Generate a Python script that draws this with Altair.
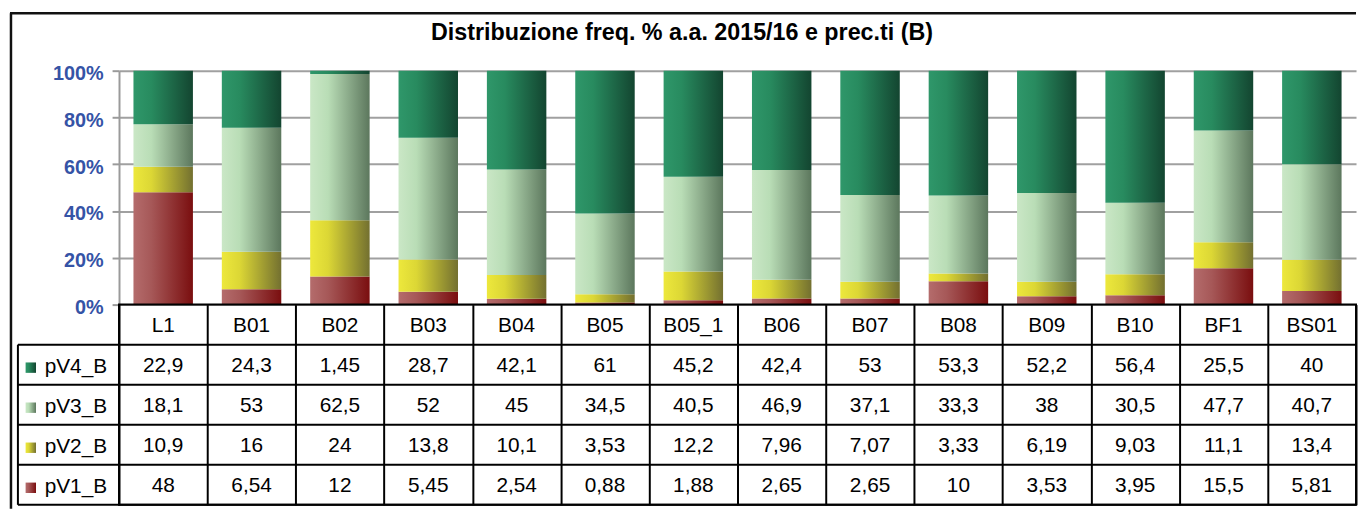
import altair as alt
import pandas as pd

# ---------------- data ----------------
categories = ["L1", "B01", "B02", "B03", "B04", "B05", "B05_1", "B06",
              "B07", "B08", "B09", "B10", "BF1", "BS01"]
series_names = ["pV4_B", "pV3_B", "pV2_B", "pV1_B"]          # table order (top -> bottom)
pV4_B = [22.9, 24.3, 1.45, 28.7, 42.1, 61, 45.2, 42.4, 53, 53.3, 52.2, 56.4, 25.5, 40]
pV3_B = [18.1, 53, 62.5, 52, 45, 34.5, 40.5, 46.9, 37.1, 33.3, 38, 30.5, 47.7, 40.7]
pV2_B = [10.9, 16, 24, 13.8, 10.1, 3.53, 12.2, 7.96, 7.07, 3.33, 6.19, 9.03, 11.1, 13.4]
pV1_B = [48, 6.54, 12, 5.45, 2.54, 0.88, 1.88, 2.65, 2.65, 10, 3.53, 3.95, 15.5, 5.81]
stack_order = {"pV1_B": 1, "pV2_B": 2, "pV3_B": 3, "pV4_B": 4}   # bottom -> top
title_text = "Distribuzione freq. % a.a. 2015/16 e prec.ti (B)"
y_ticks = [0, 0.2, 0.4, 0.6, 0.8, 1.0]
header_row = "header"

# gradient colours (left, middle, right) per series
grad_colors = {
    "pV4_B": ["#2F976A", "#288B5F", "#134530"],
    "pV3_B": ["#CAE7C6", "#B9DDB6", "#5C775D"],
    "pV2_B": ["#EDE83C", "#DCD735", "#737030"],
    "pV1_B": ["#B46C6C", "#A65858", "#7A0E0F"],
}

values = {"pV4_B": pV4_B, "pV3_B": pV3_B, "pV2_B": pV2_B, "pV1_B": pV1_B}


def fmt(v):
    return f"{v:g}".replace(".", ",")


rows = []
for s in series_names:
    for c, v in zip(categories, values[s]):
        rows.append({"cat": c, "series": s, "value": v, "order": stack_order[s],
                     "row": s, "label": fmt(v)})
df = pd.DataFrame(rows)

df_header = pd.DataFrame({"cat": categories, "row": header_row, "label": categories})
df_table = pd.concat([df[["cat", "row", "label"]], df_header], ignore_index=True)
df_leg = pd.DataFrame({"series": series_names, "row": series_names})
row_domain = [header_row] + series_names
df_rows = pd.DataFrame({"row": row_domain})

# ---------------- sizes ----------------
W = 1248
H = 236
TH = 202
FONT = "Liberation Sans"


def grad(cols):
    return alt.LinearGradient(
        gradient="linear", x1=0, x2=1, y1=0, y2=0,
        stops=[alt.GradientStop(color=cols[0], offset=0),
               alt.GradientStop(color=cols[1], offset=0.3),
               alt.GradientStop(color=cols[2], offset=1)])


# ---------------- top : stacked 100% bars ----------------
x_bar = alt.X("cat:N", sort=categories,
              scale=alt.Scale(domain=categories, paddingInner=0.327, paddingOuter=0.1635),
              axis=None)
y_bar = alt.Y("y0:Q", scale=alt.Scale(domain=[0, 1], nice=False),
              axis=alt.Axis(values=y_ticks, format="%", title=None,
                            labelFont=FONT, labelFontSize=20, labelFontWeight="bold",
                            labelColor="#3553A6", labelPadding=9, labelOffset=3,
                            tickColor="#9A9A9A", tickSize=7, tickWidth=2,
                            domainColor="#9A9A9A", domainWidth=2,
                            grid=True, gridColor="#A0A0A0", gridWidth=2))

base = alt.Chart(df).transform_stack(
    stack="value", groupby=["cat"], as_=["y0", "y1"], offset="normalize",
    sort=[alt.SortField(field="order", order="ascending")])

bar_layers = []
for s in ["pV1_B", "pV2_B", "pV3_B", "pV4_B"]:
    bar_layers.append(
        base.transform_filter(alt.datum.series == s)
        .mark_bar(color=grad(grad_colors[s]), strokeWidth=0)
        .encode(x=x_bar, y=y_bar, y2="y1:Q")
    )

one = pd.DataFrame({"t": [title_text]})
title_mark = alt.Chart(one).mark_text(
    font=FONT, fontSize=23.5, fontWeight="bold", color="black",
    align="center", baseline="middle"
).encode(x=alt.value(568), y=alt.value(-38), text="t:N")

frame_top = alt.Chart(one).mark_rule(color="#111111", strokeWidth=2.5).encode(
    x=alt.value(-110), x2=alt.value(W), y=alt.value(-58))

top = alt.layer(*bar_layers, title_mark, frame_top).properties(
    width=W, height=H, view=alt.ViewBackground(stroke="transparent"))

# ---------------- bottom : data table ----------------
row_scale = alt.Scale(domain=row_domain, paddingInner=0, paddingOuter=0)
x_tab = alt.X("cat:N", sort=categories,
              scale=alt.Scale(domain=categories, paddingInner=0, paddingOuter=0),
              axis=alt.Axis(labels=False, ticks=False, domain=False, title=None,
                            grid=True, gridColor="black", gridWidth=2, tickBand="extent"))
y_tab = alt.Y("row:N", sort=row_domain, scale=row_scale, axis=None)

table_text = alt.Chart(df_table).mark_text(
    font=FONT, fontSize=21, color="black", align="center", baseline="middle", dy=1
).encode(x=x_tab, y=y_tab, text="label:N")

leg_text = alt.Chart(df_leg).mark_text(
    font=FONT, fontSize=21, color="black", align="left", baseline="middle", dy=2
).encode(x=alt.value(-75), y=y_tab, text="series:N")

swatches = []
for s in series_names:
    swatches.append(
        alt.Chart(df_leg).transform_filter(alt.datum.series == s)
        .mark_square(size=110, color=grad(grad_colors[s]), opacity=1, yOffset=3)
        .encode(x=alt.value(-89), y=y_tab)
    )

h_lines = alt.Chart(df_rows).mark_rule(color="black", strokeWidth=2).encode(
    y=alt.Y("row:N", sort=row_domain, scale=row_scale, axis=None, bandPosition=1),
    x=alt.value(-102), x2=alt.value(W))

leg_border = alt.Chart(one).mark_rule(color="black", strokeWidth=2).encode(
    x=alt.value(-102), y=alt.value(TH / 5), y2=alt.value(TH))

frame_left = alt.Chart(one).mark_rule(color="#111111", strokeWidth=2.5).encode(
    x=alt.value(-109), y=alt.value(-294), y2=alt.value(TH + 4))

table = alt.layer(table_text, leg_text, *swatches, h_lines, leg_border, frame_left).properties(
    width=W, height=TH, view=alt.ViewBackground(stroke="black", strokeWidth=2))

chart = alt.vconcat(top, table, spacing=0, bounds="flush").resolve_scale(
    x="independent", y="independent"
).properties(padding=0, background="white")

chart.save("out.html", embed_options={"renderer": "svg", "actions": False})
